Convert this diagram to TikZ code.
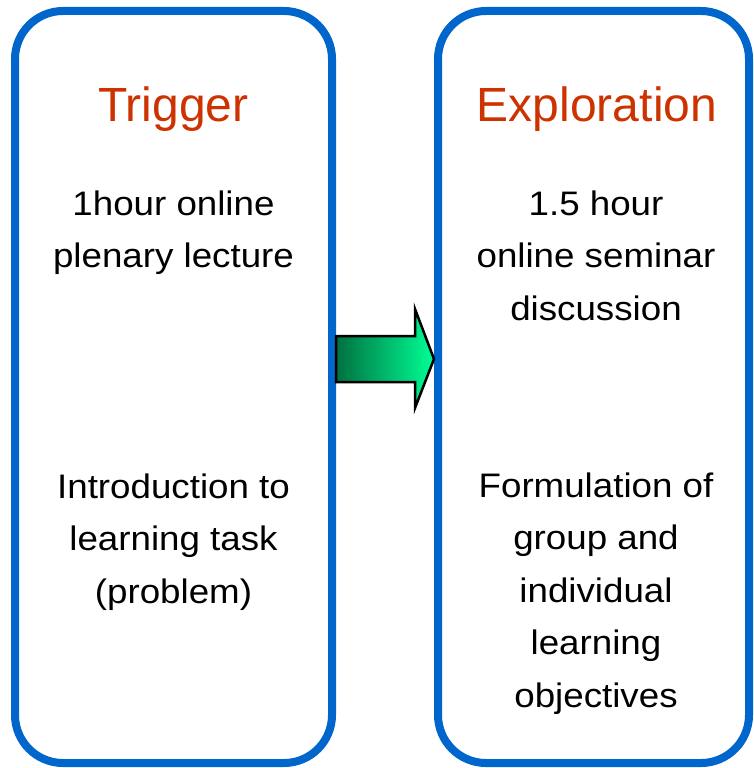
\documentclass[tikz,border=0pt]{standalone}
\usepackage{fontspec}
\setmainfont{Liberation Sans}
\newfontfamily\bodyfont{Liberation Sans}[FakeStretch=1.08]
\usetikzlibrary{calc}
\definecolor{boxblue}{RGB}{0,102,204}
\definecolor{titlered}{RGB}{204,51,0}
\definecolor{arrowdark}{RGB}{0,112,64}
\definecolor{arrowlight}{RGB}{0,255,150}
\begin{document}
\begin{tikzpicture}[x=1pt,y=-1pt,
  phase/.style={draw=boxblue, line width=8pt, rounded corners=48pt, fill=white,
                minimum width=#1, minimum height=752pt, inner sep=0pt},
  title/.style={text=titlered, font=\fontsize{48}{58}\selectfont, anchor=base, inner sep=0pt},
  body/.style={font=\bodyfont\fontsize{34}{52.5}\selectfont, align=center, anchor=base, inner sep=0pt},
  flow/.style={draw=black, line width=2.5pt, line join=miter, left color=arrowdark, right color=arrowlight}]
\useasboundingbox (0,0) rectangle (753,768);

% the two phase panels
\node[phase=317pt] (trig) at (173.5,387) {};
\node[phase=311pt] (expl) at (593.5,387) {};

% block arrow from the first panel to the second
\coordinate (tail) at ($(trig.east)+(0,-28)$);
\coordinate (tip)  at ($(expl.west)+(0,-28)$);
\filldraw[flow] ($(tail)+(0,-23)$) -- ($(tail)+(79,-23)$) -- ($(tail)+(79,-50)$)
  -- (tip) -- ($(tail)+(79,49)$) -- ($(tail)+(79,23)$) -- ($(tail)+(0,23)$) -- cycle;

% panel headings
\node[title] (trigtitle) at (173.5,121) {Trigger};
\node[title] (expltitle) at (597,121) {Exploration};

% panel contents (placed by the baseline of their last line)
\node[body] (lecture) at (173.5,267.5) {1hour online\\plenary lecture};
\node[body] (task) at (173.5,603) {Introduction to\\learning task\\(problem)};
\node[body] (seminar) at (596,320) {1.5 hour\\online seminar\\discussion};
\node[body] (goals) at (596,707) {Formulation of\\group and\\individual\\learning\\objectives};
\end{tikzpicture}
\end{document}
